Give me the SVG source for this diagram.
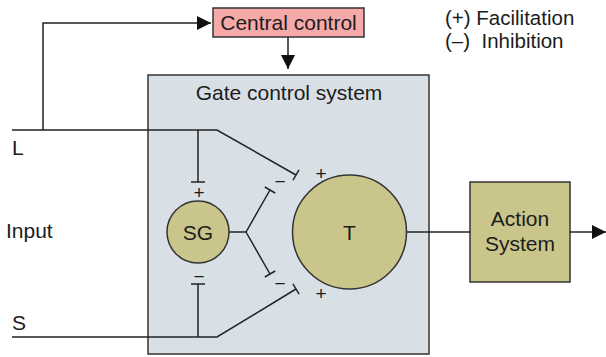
<svg xmlns="http://www.w3.org/2000/svg" width="606" height="357" viewBox="0 0 606 357">
<style>
text{font-family:"Liberation Sans",Arial,sans-serif;fill:#1c1c1c;font-size:21px}
.mid{text-anchor:middle}
.sig{font-size:19px;text-anchor:middle}
.leg{font-size:20.5px}
.ln{fill:none;stroke:#222;stroke-width:1.5}
.box{stroke:#333;stroke-width:1.5}
</style>
<defs>
<marker id="arr" viewBox="0 0 14 14" refX="14" refY="7" markerWidth="14" markerHeight="14" orient="auto" markerUnits="userSpaceOnUse">
<path d="M0,0 L14,7 L0,14 z" fill="#111"/>
</marker>
</defs>
<g id="gate">
<rect x="148" y="75" width="281" height="279" fill="#d8e0e6" class="box"/>
<text x="289" y="100" class="mid">Gate control system</text>
</g>
<g id="central">
<rect x="213" y="8" width="151" height="29" fill="#f5a9a9" class="box"/>
<text x="288.5" y="30" class="mid">Central control</text>
</g>
<g id="action">
<rect x="470" y="182" width="100" height="100" fill="#c9c58b" class="box"/>
<text x="520" y="226" class="mid">Action</text>
<text x="520" y="251" class="mid">System</text>
</g>
<g id="connectors">
<path class="ln" d="M12,130 H217 L296,175"/>
<path class="ln" d="M293,180.2 L299,169.8"/>
<path class="ln" d="M198,130 V182 M191,182 H205"/>
<path class="ln" d="M43,130 V23 H211" marker-end="url(#arr)"/>
<path class="ln" d="M288,37 V69" marker-end="url(#arr)"/>
<path class="ln" d="M12,337 H217 L296,289"/>
<path class="ln" d="M292.9,283.9 L299.1,294.1"/>
<path class="ln" d="M198,337 V284 M191,284 H205"/>
<path class="ln" d="M229,232 H246 L270,190 M246,232 L270,274"/>
<path class="ln" d="M264.8,187 L275.2,193 M264.8,277 L275.2,271"/>
<path class="ln" d="M407,232 H470"/>
<path class="ln" d="M570,232 H606" marker-end="url(#arr)"/>
</g>
<g id="sg">
<circle cx="198" cy="232" r="31" fill="#c9c58b" class="box"/>
<text x="198" y="240" class="mid">SG</text>
</g>
<g id="t">
<circle cx="349.5" cy="232" r="57" fill="#c9c58b" class="box"/>
<text x="349.5" y="240" class="mid">T</text>
</g>
<g id="signs">
<text x="199" y="198.5" class="sig">+</text>
<text x="199" y="283" class="sig">−</text>
<text x="280" y="188" class="sig">−</text>
<text x="280" y="290" class="sig">−</text>
<text x="321" y="179.5" class="sig">+</text>
<text x="321" y="299.5" class="sig">+</text>
</g>
<g id="labels">
<text x="12" y="155">L</text>
<text x="6" y="238">Input</text>
<text x="12" y="330">S</text>
<text x="445" y="25" class="leg">(+) Facilitation</text>
<text x="445" y="48" class="leg" style="white-space:pre">(–)  Inhibition</text>
</g>
</svg>
